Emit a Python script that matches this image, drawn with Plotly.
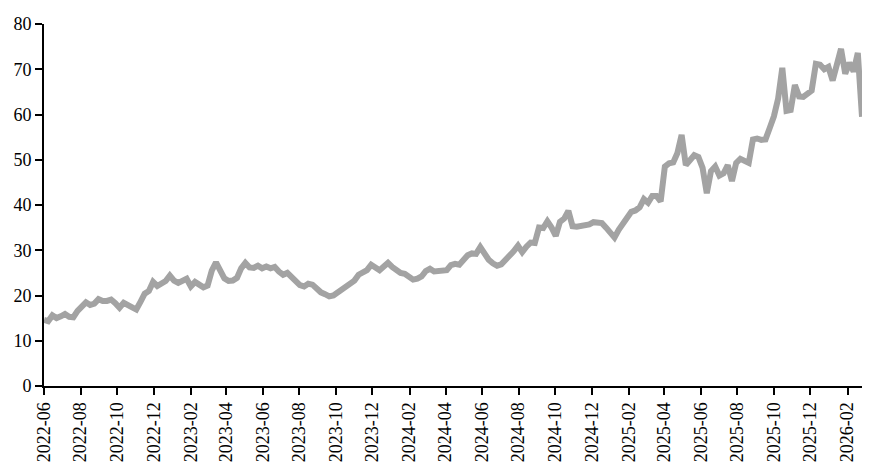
import pandas as pd
import plotly.graph_objects as go

# weekly closing values, starting 2022-06-01
start_date = "2022-06-01"
values = [
    14.6, 14.3, 15.6, 15.0, 15.4, 15.9, 15.3, 15.2, 16.6, 17.8,
    18.5, 17.9, 18.2, 19.2, 18.8, 18.8, 19.1, 18.3, 17.3, 18.4,
    18.0, 17.4, 16.9, 18.6, 20.4, 21.0, 23.0, 22.1, 22.6, 23.2,
    24.4, 23.3, 22.8, 23.4, 23.7, 22.0, 23.0, 22.4, 21.8, 22.2,
    25.5, 27.3, 25.8, 23.8, 23.2, 23.3, 23.9, 26.0, 27.2, 26.2,
    26.1, 26.6, 26.0, 26.4, 26.0, 26.3, 25.3, 24.6, 25.0, 24.0,
    23.0, 22.3, 22.0, 22.6, 22.4, 21.3, 20.7, 20.3, 19.8, 20.0,
    20.6, 21.4, 21.8, 22.4, 23.3, 24.6, 25.3, 25.6, 26.8, 26.3,
    25.6, 26.4, 27.2, 26.3, 25.7, 25.0, 24.8, 24.2, 23.5, 23.7,
    24.2, 25.4, 25.9, 25.3, 25.4, 25.6, 25.6, 26.7, 27.0, 26.8,
    28.0, 28.9, 29.3, 29.2, 30.7, 29.0, 27.9, 27.1, 26.6, 26.9,
    27.8, 28.7, 29.8, 31.0, 29.6, 30.8, 31.7, 31.6, 35.0, 34.9,
    36.4, 35.0, 33.2, 36.3, 37.0, 38.7, 35.3, 35.2, 35.3, 35.5,
    35.7, 36.2, 36.2, 36.0, 35.0, 33.7, 32.8, 34.5, 35.8, 37.2,
    38.5, 38.8, 39.5, 41.3, 40.5, 42.0, 42.0, 40.8, 48.5, 49.2,
    49.4, 51.5, 55.5, 48.8, 50.0, 51.0, 50.6, 48.2, 42.6, 47.5,
    48.5, 46.5, 47.0, 48.8, 45.3, 49.3, 50.2, 49.8, 49.3, 54.5,
    54.7, 54.4, 54.5, 57.0, 59.6, 63.5, 70.3, 60.8, 61.0, 66.5,
    64.0, 63.9, 64.8, 65.3, 71.2, 71.0, 70.0, 70.5, 67.5, 71.5,
    74.5, 69.0, 71.4, 69.5, 73.6, 59.5,
]
dates = pd.date_range(start_date, periods=len(values), freq="7D")

y_ticks = [0, 10, 20, 30, 40, 50, 60, 70, 80]

fig = go.Figure()
fig.add_trace(go.Scatter(
    x=dates, y=values, mode="lines",
    line=dict(color="#a3a3a3", width=6),
    showlegend=False,
))

axis_font = dict(family="Liberation Serif, Times New Roman, serif", size=18, color="black")

fig.update_layout(
    width=877, height=475,
    margin=dict(l=44, r=15, t=24, b=89),
    plot_bgcolor="white",
    paper_bgcolor="white",
    font=axis_font,
)
fig.update_xaxes(
    range=[dates[0], dates[-1]],
    tick0=start_date, dtick="M2", tickformat="%Y-%m", tickangle=-90,
    showline=True, linecolor="black", linewidth=2,
    ticks="outside", ticklen=7, tickwidth=2, tickcolor="black",
    showgrid=False, zeroline=False, tickfont=axis_font, automargin=False,
)
fig.update_yaxes(
    range=[0, 80], tickvals=y_ticks,
    showline=True, linecolor="black", linewidth=2,
    ticks="outside", ticklen=7, tickwidth=2, tickcolor="black",
    showgrid=False, zeroline=False, tickfont=axis_font, automargin=False,
)

# drop the default page margin so the figure sits at the window corner
fig.write_html(
    "out.html",
    config={"displayModeBar": False},
    post_script="document.body.style.margin='0';document.body.style.overflow='hidden';",
)
